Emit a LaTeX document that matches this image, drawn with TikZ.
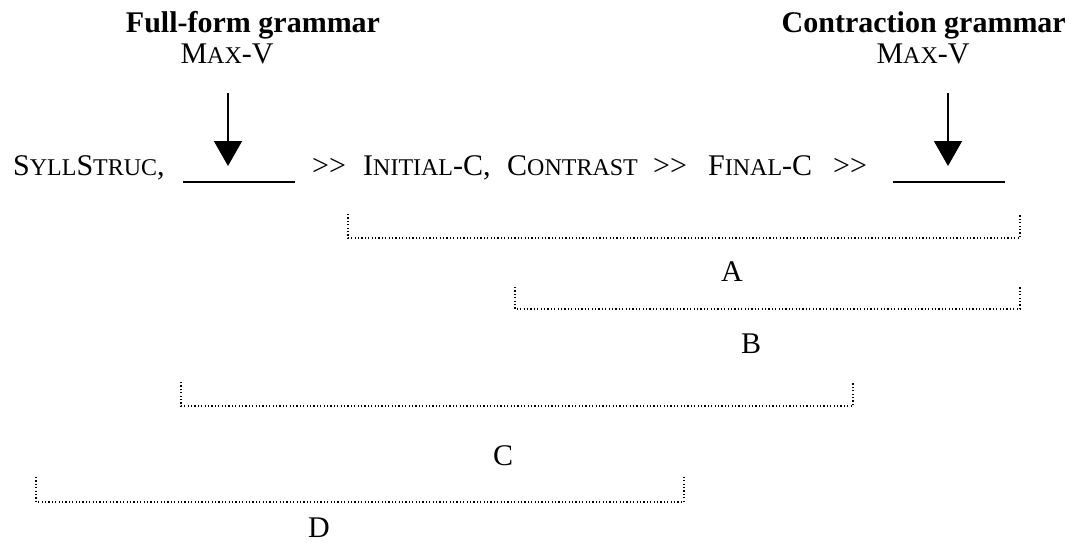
\documentclass[tikz,border=0pt]{standalone}
\usepackage{fontspec}
\setmainfont{Liberation Serif}
\usetikzlibrary{arrows.meta}
\newcommand\smc[1]{{\fontsize{24}{24}\selectfont #1}}
\newcommand\gtgt{>{}>}
\tikzset{
 txt/.style={inner sep=0pt, anchor=base, font=\fontsize{30}{36}\selectfont},
 lft/.style={txt, anchor=base west},
 hdr/.style={inner sep=0pt, anchor=base, font=\fontsize{30}{36}\selectfont\bfseries},
 br/.style={line width=1.2pt, dash pattern=on 1.2pt off 2.2pt},
 arr/.style={line width=1.5pt, -{Triangle[length=25pt,width=28pt]}},
 blank/.style={line width=1.2pt}
}
\begin{document}
\begin{tikzpicture}[x=1pt,y=-1pt]
\useasboundingbox (0,0) rectangle (1081,542);
% headers
\node[hdr] (ffg) at (253,32) {Full-form grammar};
\node[txt] (mv1) at (227,63) {M\smc{AX}-V};
\node[hdr, anchor=base east] (cg) at (1066,32) {Contraction grammar};
\node[txt] (mv2) at (923,63) {M\smc{AX}-V};
% main line
\node[lft] (ss) at (13,175) {S\smc{YLL}S\smc{TRUC},};
\coordinate (b1l) at (183,182);
\coordinate (b1r) at (295,182);
\draw[blank] (b1l) -- (b1r);
\node[lft] (g1) at (312,175) {\gtgt};
\node[lft] (ic) at (363,175) {I\smc{NITIAL}-C,};
\node[lft] (ct) at (507,175) {C\smc{ONTRAST}};
\node[lft] (g2) at (653,175) {\gtgt};
\node[lft] (fc) at (708,175) {F\smc{INAL}-C};
\node[lft] (g3) at (833,175) {\gtgt};
\coordinate (b2l) at (893,182);
\coordinate (b2r) at (1005,182);
\draw[blank] (b2l) -- (b2r);
% arrows
\coordinate (a1s) at (228,93);
\coordinate (a1e) at (228,166);
\coordinate (a2s) at (948,93);
\coordinate (a2e) at (948,166);
\draw[arr] (a1s) -- (a1e);
\draw[arr] (a2s) -- (a2e);
% brackets
\coordinate (Al) at (348,214); \coordinate (Ar) at (1020,214);
\coordinate (Bl) at (515,287); \coordinate (Br) at (1020,287);
\coordinate (Cl) at (181,382); \coordinate (Cr) at (853,382);
\coordinate (Dl) at (36,477);  \coordinate (Dr) at (684,477);
\draw[br] (Al) -- ++(0,24) -| (Ar);
\draw[br] (Bl) -- ++(0,22) -| (Br);
\draw[br] (Cl) -- ++(0,24) -| (Cr);
\draw[br] (Dl) -- ++(0,25) -| (Dr);
% labels
\node[txt] (la) at (732,281) {A};
\node[txt] (lb) at (751,353) {B};
\node[txt] (lc) at (503,465) {C};
\node[txt] (ld) at (319,537) {D};
\end{tikzpicture}
\end{document}
